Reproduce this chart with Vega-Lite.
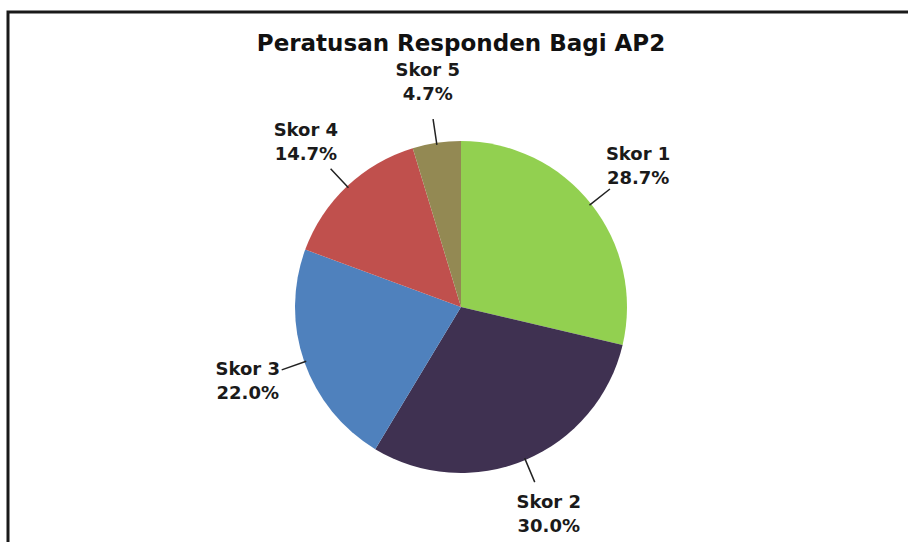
{
  "$schema": "https://vega.github.io/schema/vega-lite/v6.json",
  "width": 908,
  "height": 542,
  "autosize": {"type": "fit", "contains": "padding"},
  "padding": {"left": 8, "top": 12, "right": -6, "bottom": -60},
  "background": "white",
  "title": {
    "text": "Peratusan Responden Bagi AP2",
    "font": "DejaVu Sans",
    "fontSize": 23,
    "fontWeight": "bold",
    "color": "#111111",
    "anchor": "middle",
    "offset": -44
  },
  "view": {"stroke": "#1a1a1a", "strokeWidth": 3},
  "data": {
    "values": [
      {"skor": "Skor 1", "pct": 0.287},
      {"skor": "Skor 2", "pct": 0.300},
      {"skor": "Skor 3", "pct": 0.220},
      {"skor": "Skor 4", "pct": 0.147},
      {"skor": "Skor 5", "pct": 0.047}
    ]
  },
  "layer": [
    {
      "mark": {"type": "arc", "outerRadius": 166},
      "encoding": {
        "theta": {"field": "pct", "type": "quantitative", "stack": true},
        "order": {"field": "skor", "type": "nominal"},
        "color": {
          "field": "skor",
          "type": "nominal",
          "scale": {
            "domain": ["Skor 1", "Skor 2", "Skor 3", "Skor 4", "Skor 5"],
            "range": ["#92D050", "#3F3151", "#4F81BD", "#C0504D", "#938953"]
          },
          "legend": null
        }
      }
    },
    {
      "transform": [
        {"window": [{"op": "sum", "field": "pct", "as": "cum"}], "sort": [{"field": "skor"}]},
        {"calculate": "datum.cum - datum.pct / 2", "as": "mid"}
      ],
      "mark": {"type": "arc", "radius": 164, "radius2": 190, "fill": null, "stroke": "#222222", "strokeWidth": 1.5},
      "encoding": {
        "theta": {"field": "mid", "type": "quantitative", "stack": null},
        "theta2": {"field": "mid"}
      }
    },
    {
      "mark": {"type": "text", "radius": 226, "dy": -12, "font": "DejaVu Sans", "fontSize": 18, "fontWeight": "bold", "color": "#1a1a1a"},
      "encoding": {
        "theta": {"field": "pct", "type": "quantitative", "stack": true},
        "order": {"field": "skor", "type": "nominal"},
        "detail": {"field": "skor", "type": "nominal"},
        "text": {"field": "skor", "type": "nominal"}
      }
    },
    {
      "mark": {"type": "text", "radius": 226, "dy": 12, "font": "DejaVu Sans", "fontSize": 18, "fontWeight": "bold", "color": "#1a1a1a"},
      "encoding": {
        "theta": {"field": "pct", "type": "quantitative", "stack": true},
        "order": {"field": "skor", "type": "nominal"},
        "detail": {"field": "skor", "type": "nominal"},
        "text": {"field": "pct", "type": "quantitative", "format": ".1%"}
      }
    }
  ]
}
